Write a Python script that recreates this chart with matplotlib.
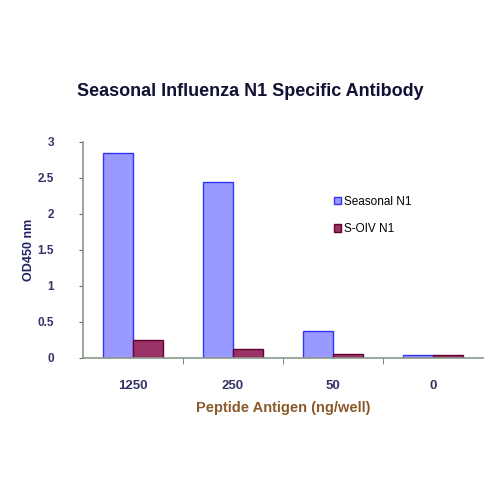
import numpy as np
import matplotlib.pyplot as plt

# Peptide antigen amounts and OD450 readings
categories = ["1250", "250", "50", "0"]
seasonal_n1 = [2.85, 2.45, 0.37, 0.04]
soiv_n1 = [0.25, 0.13, 0.05, 0.04]
series_names = ["Seasonal N1", "S-OIV N1"]

plt.rcParams['font.family'] = ['Liberation Sans', 'DejaVu Sans']

fig = plt.figure(figsize=(5, 5), dpi=100)
ax = fig.add_axes([0.166, 0.284, 0.80, 0.432])

x = np.arange(len(categories))
w = 0.3
ax.bar(x - w / 2, seasonal_n1, w, color="#9999ff", edgecolor="#3333ff",
       linewidth=1, label=series_names[0])
ax.bar(x + w / 2, soiv_n1, w, color="#993366", edgecolor="#660033",
       linewidth=1, label=series_names[1])

ax.set_xlim(-0.5, len(categories) - 0.5)
ax.set_ylim(0, 3)
ax.set_yticks([0, 0.5, 1, 1.5, 2, 2.5, 3])
ax.set_yticklabels(["0", "0.5", "1", "1.5", "2", "2.5", "3"], fontweight="bold")
ax.set_xticks(x)
ax.set_xticklabels(categories, fontweight="bold")
ax.set_xticks(x[:-1] + 0.5, minor=True)
ax.tick_params(axis="x", which="major", length=0, pad=16, labelsize=9.5,
               colors="#333366")
ax.tick_params(axis="x", which="minor", length=4, direction="out",
               color="#557755")
ax.tick_params(axis="y", length=3, direction="out", pad=18, labelsize=8.5,
               color="#557755", labelcolor="#333366")

for s in ["top", "right"]:
    ax.spines[s].set_visible(False)
for s in ["left", "bottom"]:
    ax.spines[s].set_color("#8a9a8a")
    ax.spines[s].set_linewidth(1.2)

ax.set_ylabel("OD450 nm", fontsize=9, fontweight="bold", color="#222266",
              labelpad=2)
ax.set_xlabel("Peptide Antigen (ng/well)", fontsize=10.5, fontweight="bold",
              color="#8a5a2a", labelpad=6)
fig.suptitle("Seasonal Influenza N1 Specific Antibody", fontsize=13,
             fontweight="bold", color="#111133", y=0.835)

ax.legend(loc="upper left", bbox_to_anchor=(0.6, 0.80), frameon=False,
          fontsize=8.5, handlelength=0.6, handleheight=0.6,
          handletextpad=0.3, labelspacing=1.3)

fig.savefig("out.png", dpi=100)
